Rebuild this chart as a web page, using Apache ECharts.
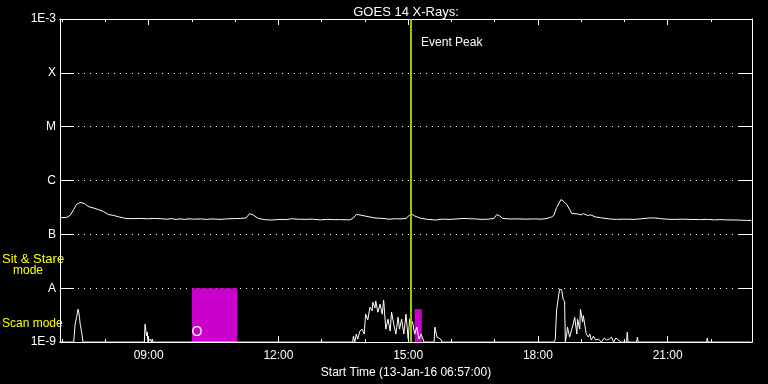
<!DOCTYPE html>
<html>
<head>
<meta charset="utf-8">
<script src="https://cdn.jsdelivr.net/npm/echarts@6/dist/echarts.min.js"></script>
<style>html,body{margin:0;padding:0;background:#000;}#c{width:768px;height:384px;}</style>
</head>
<body>
<div id="c"></div>
<script>
// ---------- data ----------
const titleText = 'GOES 14 X-Rays:';
const axisTitle = 'Start Time (13-Jan-16 06:57:00)';
const axisStart = '06:57';
const axisEnd = '22:57';
const majorTickHours = [9, 12, 15, 18, 21];
const minorTickHours = [7, 8, 10, 11, 13, 14, 16, 17, 19, 20, 22];
const yLevelLabels = ['1E-9', 'A', 'B', 'C', 'M', 'X', '1E-3'];

// GOES long channel flux (W/m^2, in units of 1e-7)
const mainTimes = ['06:58','07:06','07:11','07:16','07:20','07:25','07:31','07:36','07:43','07:50','07:57','08:04','08:11','08:18','08:28','08:38','08:48','08:58','09:07','09:16','09:25','09:32','09:38','09:44','09:50','09:56','10:02','10:12','10:20','10:28','10:39','10:48','10:58','11:07','11:15','11:20','11:25','11:32','11:42','11:50','11:58','12:05','12:11','12:18','12:27','12:37','12:47','12:58','13:08','13:16','13:25','13:39','13:44','13:48','13:53','14:01','14:14','14:25','14:33','14:42','14:50','14:57','15:04','15:09','15:16','15:27','15:38','15:48','15:58','16:08','16:16','16:24','16:32','16:43','16:52','16:59','17:03','17:07','17:11','17:20','17:35','17:45','17:55','18:05','18:13','18:19','18:22','18:26','18:32','18:36','18:40','18:44','18:47','18:55','19:00','19:03','19:09','19:13','19:20','19:27','19:39','19:49','20:00','20:14','20:25','20:35','20:42','20:50','20:58','21:10','21:20','21:30','21:44','21:55','22:05','22:12','22:22','22:35','22:49','22:56'];
const mainFlux7 = [2.04,2.06,2.25,2.90,3.60,3.92,3.75,3.30,3.10,2.90,2.67,2.34,2.25,2.13,1.98,1.96,1.98,1.95,1.98,1.96,1.92,1.96,1.90,1.94,1.90,1.95,1.92,1.94,1.90,1.94,1.90,1.94,1.96,1.98,2.02,2.42,2.30,1.98,1.87,1.85,1.88,1.90,1.88,1.95,1.92,1.90,1.92,1.86,1.90,1.88,1.88,1.86,2.02,2.34,2.30,2.18,2.02,1.98,1.92,1.95,1.94,1.98,2.42,2.20,2.02,1.90,1.85,1.92,1.90,1.94,1.98,1.96,1.94,1.90,1.92,1.98,2.34,2.20,1.98,1.94,1.94,1.92,1.94,1.92,1.98,2.11,2.25,3.16,4.45,4.08,3.60,2.90,2.45,2.40,2.30,2.42,2.25,2.30,2.11,2.04,1.94,1.90,1.92,1.90,1.96,2.02,2.02,1.96,1.92,1.90,1.92,1.90,1.88,1.90,1.86,1.88,1.86,1.85,1.82,1.82];

// low-level trace shown in the scan-mode band (units of 1e-9)
const lowTimes = ['06:58','07:16','07:18','07:20','07:22','07:23','07:24','07:25','07:27','07:29','08:54','08:55','08:57','08:58','08:59','09:02','09:04','09:05','09:06','13:43','13:44','13:46','13:48','13:50','13:53','13:56','13:59','14:01','14:04','14:07','14:10','14:11','14:14','14:15','14:18','14:21','14:24','14:26','14:29','14:32','14:35','14:37','14:40','14:43','14:46','14:48','14:51','14:54','14:57','15:00','15:02','15:06','15:09','15:12','15:15','15:18','15:22','15:36','15:37','15:40','15:45','15:47','18:22','18:24','18:26','18:28','18:30','18:33','18:35','18:37','18:38','18:40','18:41','18:44','18:47','18:49','18:51','18:54','18:55','18:58','18:59','19:02','19:03','19:06','19:07','19:10','19:12','19:14','19:17','19:20','19:24','19:28','19:32','19:35','19:39','19:42','19:45','19:48','19:52','19:54','20:03','20:04','20:05','20:17','20:18','20:19','21:54','21:55','21:56','22:56'];
const lowFlux9 = [1.0,1.0,2.15,2.9,4.09,3.59,2.9,2.15,1.53,1.0,1.0,2.15,1.3,1.53,1.0,1.14,1.0,1.14,1.0,1.0,1.29,1.0,1.41,1.14,1.6,1.74,1.41,3.3,2.6,4.45,3.8,5.5,4.3,5.8,3.59,5.05,3.3,6.0,1.74,2.67,1.6,3.59,2.15,1.41,2.9,1.74,2.67,1.41,3.3,1.14,2.67,2.4,1.41,1.9,1.14,1.41,1.0,1.0,1.9,1.24,1.14,1.0,1.0,1.1,4.0,6.26,9.6,9.3,6.26,5.7,1.0,1.41,1.9,1.24,1.74,2.15,2.9,1.41,2.67,1.74,4.09,2.35,3.1,1.74,1.41,1.24,1.41,1.09,1.29,1.09,1.14,1.0,1.19,1.09,1.14,1.24,1.0,1.19,1.09,1.0,1.0,1.53,1.0,1.0,1.24,1.0,1.0,1.19,1.0,1.0];

// sit & stare periods
const sitStareStart = ['10:00', '15:09'];
const sitStareEnd = ['11:03', '15:19'];
const sitStareTop = [1e-8, 4.1e-9];

// annotations
const eventPeakTime = '15:04';
const eventPeakLabel = 'Event Peak';
const eventLabelLevel = 3.6e-4;
const circleMarkTime = '10:07';
const circleMarkLevel = 1.53e-9;
const circleMarkText = 'O';

// ---------- helpers ----------
function hrs(s) { const p = s.split(':'); return +p[0] + (+p[1]) / 60; }
function pad(n) { return (n < 10 ? '0' : '') + n; }

const mainData = mainTimes.map((t, i) => [hrs(t), mainFlux7[i] * 1e-7]);
const lowData = lowTimes.map((t, i) => [hrs(t), lowFlux9[i] * 1e-9]);
const areas = sitStareStart.map((s, i) => [{ coord: [hrs(s), 1e-9] }, { coord: [hrs(sitStareEnd[i]), sitStareTop[i]] }]);

const FONT = 'Liberation Sans';
const xMin = hrs(axisStart), xMax = hrs(axisEnd);
const white = '#ffffff';

function xAx(pos, ticks, len, withLabels) {
  return {
    type: 'value', position: pos, min: xMin, max: xMax,
    axisLine: { show: true, onZero: false, lineStyle: { color: white, width: 1 } },
    axisTick: { show: true, inside: true, length: len, customValues: ticks, lineStyle: { color: white, width: 1 } },
    axisLabel: withLabels ? {
      show: true, customValues: majorTickHours, color: white, fontFamily: FONT, fontSize: 12, margin: 8,
      formatter: v => pad(Math.round(v)) + ':00'
    } : { show: false },
    splitLine: { show: false },
    name: withLabels ? axisTitle : '',
    nameLocation: 'middle', nameGap: 22,
    nameTextStyle: { color: white, fontFamily: FONT, fontSize: 12 }
  };
}
function yAx(pos, withLabels) {
  return {
    type: 'log', logBase: 10, position: pos, min: 1e-9, max: 1e-3, interval: 1, splitNumber: 6,
    axisLine: { show: true, lineStyle: { color: white, width: 1 } },
    axisTick: { show: true, inside: true, length: 14, lineStyle: { color: white, width: 1 } },
    axisLabel: withLabels ? {
      show: true, color: white, fontFamily: FONT, fontSize: 12, margin: 4,
      formatter: v => yLevelLabels[Math.round(Math.log10(v)) + 9]
    } : { show: false },
    splitLine: withLabels ? { show: true, lineStyle: { color: white, type: [1, 5], width: 1 } } : { show: false }
  };
}

const chart = echarts.init(document.getElementById('c'), null, { renderer: 'canvas' });
chart.setOption({
  backgroundColor: '#000000',
  animation: false,
  title: {
    text: titleText, left: 401, top: 1, textAlign: 'center',
    textStyle: { color: white, fontFamily: FONT, fontSize: 13, fontWeight: 'normal' }
  },
  grid: { left: 60, right: 16, top: 19, bottom: 41, containLabel: false },
  xAxis: [
    xAx('bottom', minorTickHours, 3, true),
    xAx('bottom', majorTickHours, 6, false),
    xAx('top', minorTickHours, 3, false),
    xAx('top', majorTickHours, 6, false)
  ],
  yAxis: [yAx('left', true), yAx('right', false)],
  graphic: [
    { type: 'text', x: 2, y: 259, style: { text: 'Sit & Stare', fill: '#ffff00', font: '13px "' + FONT + '"', verticalAlign: 'middle' } },
    { type: 'text', x: 13, y: 271, style: { text: 'mode', fill: '#ffff00', font: '12px "' + FONT + '"', verticalAlign: 'middle' } },
    { type: 'text', x: 2, y: 324, style: { text: 'Scan mode', fill: '#ffff00', font: '12px "' + FONT + '"', verticalAlign: 'middle' } }
  ],
  series: [
    {
      name: 'sitstare', type: 'line', data: [], z: 1, silent: true,
      markArea: { silent: true, itemStyle: { color: '#cc00cc', opacity: 1 }, data: areas }
    },
    {
      name: 'low', type: 'line', data: lowData, z: 3, showSymbol: false, clip: true,
      lineStyle: { color: white, width: 1 }
    },
    {
      name: 'goes', type: 'line', data: mainData, z: 3, showSymbol: false, clip: true,
      lineStyle: { color: white, width: 1 },
      markPoint: {
        silent: true, symbol: 'circle', symbolSize: 0,
        data: [
          { coord: [hrs(eventPeakTime), eventLabelLevel], label: { show: true, formatter: eventPeakLabel, position: 'right', distance: 10, color: white, fontFamily: FONT, fontSize: 12 } },
          { coord: [hrs(circleMarkTime), circleMarkLevel], label: { show: true, formatter: circleMarkText, position: 'inside', color: white, fontFamily: FONT, fontSize: 14 } }
        ]
      }
    },
    {
      name: 'peak', type: 'line', data: [], z: 5, silent: true,
      markLine: {
        silent: true, symbol: ['none', 'none'], label: { show: false },
        lineStyle: { color: '#99cc00', width: 2, type: 'solid' },
        data: [{ xAxis: hrs(eventPeakTime) }]
      }
    }
  ]
});
</script>
</body>
</html>
